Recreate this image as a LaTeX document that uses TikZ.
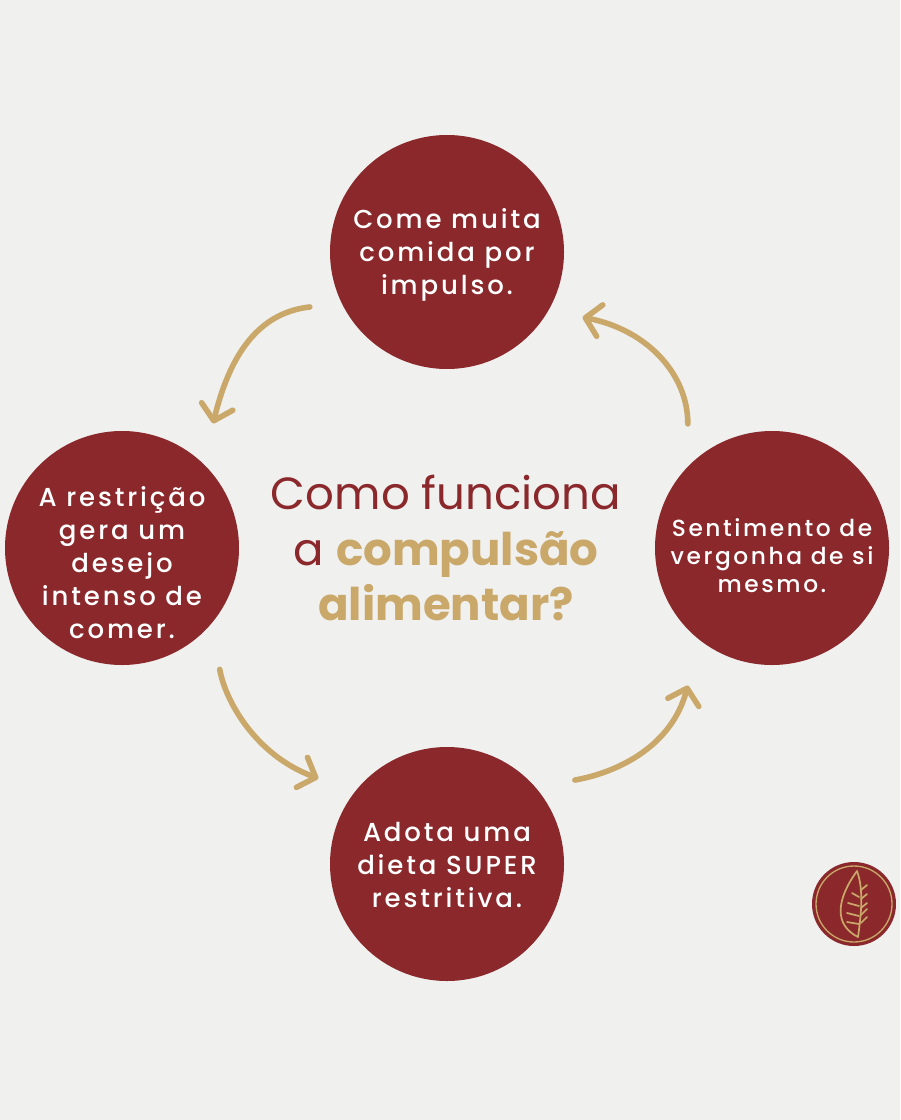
\documentclass[tikz,border=0pt]{standalone}
\usepackage{fontspec}
\usepackage{xcolor}
\setmainfont{Poppins}
\newfontfamily\stagefont[LetterSpace=11,UprightFont=* Medium]{Poppins}
\newcommand{\lift}[1]{\rule{0pt}{#1}}
\definecolor{wine}{HTML}{8A282B}
\definecolor{gold}{HTML}{C9A86A}
\definecolor{paper}{HTML}{F0F0EF}
\usetikzlibrary{arrows.meta}

\begin{document}
\begin{tikzpicture}[x=0.75pt,y=-0.75pt,
		stage/.style={circle,fill=wine,text=white,minimum size=175.5pt,inner sep=-30pt,align=center,font=\stagefont\fontsize{19.5pt}{24.75pt}\selectfont},
		stagetight/.style={stage,font=\stagefont\fontsize{17.5pt}{21pt}\selectfont},
		flow/.style={draw=gold,line width=4.2pt,line cap=round,-{Straight Barb[round,length=11pt,width=24pt,line width=4.2pt]}},
		vein/.style={draw=gold,line width=1.3pt,line cap=round}]
		\useasboundingbox (0,0) rectangle (900,1120);
		\fill[paper] (0,0) rectangle (900,1120);
		
		\node[stage] (eat) at (447,252) {\lift{19.5pt}Come muita\\comida por\\impulso.};
		\node[stage] (desire) at (122,548) {\lift{37pt}A restrição\\gera um\\desejo\\intenso de\\comer.};
		\node[stagetight] (shame) at (772,548) {\lift{25.5pt}Sentimento de\\vergonha de si\\mesmo.};
		\node[stage] (diet) at (447,864) {\lift{16.5pt}Adota uma\\dieta SUPER\\restritiva.};
		
		\node[align=center,inner sep=0pt,font=\fontsize{33.8pt}{41.5pt}\selectfont,text=wine] (title) at (446,548) {Como funciona\\a \textcolor{gold}{\textbf{compulsão}}\\\textcolor{gold}{\textbf{alimentar?}}};
		
		\draw[flow,shorten <=24pt,shorten >=31pt] (eat.206) .. controls (265,312) and (232,345) .. (desire.46);
		\draw[flow,shorten <=35pt,shorten >=29pt] (desire.-40) .. controls (225,700) and (255,755) .. (diet.142);
		\draw[flow,shorten <=30pt,shorten >=35pt] (diet.41) .. controls (620,772) and (672,745) .. (shame.232);
		\draw[flow,shorten <=32pt,shorten >=26pt] (shame.136) .. controls (688,375) and (648,330) .. (eat.-30);
		
		% logo
		\node[circle,fill=wine,minimum size=63pt,inner sep=0pt] (logo) at (854,904) {};
		\node[circle,draw=gold,line width=1pt,minimum size=57pt,inner sep=0pt] (ring) at (logo) {};
		\draw[vein,line join=round] (857,871) .. controls (836,900) and (834,925) .. (858,937) .. controls (861,915) and (864,890) .. (857,871) -- cycle;
		\foreach \ya/\yb in {890/885,899/894,908/903,915/909,923/917} {
			\draw[vein] (861,\ya) -- (867,\yb);
		}
		\foreach \xa/\ya/\yb in {852/893/897,848/903/906,847/913/916,847/922/924} {
			\draw[vein] (\xa,\ya) -- (859,\yb);
		}
\end{tikzpicture}
\end{document}
